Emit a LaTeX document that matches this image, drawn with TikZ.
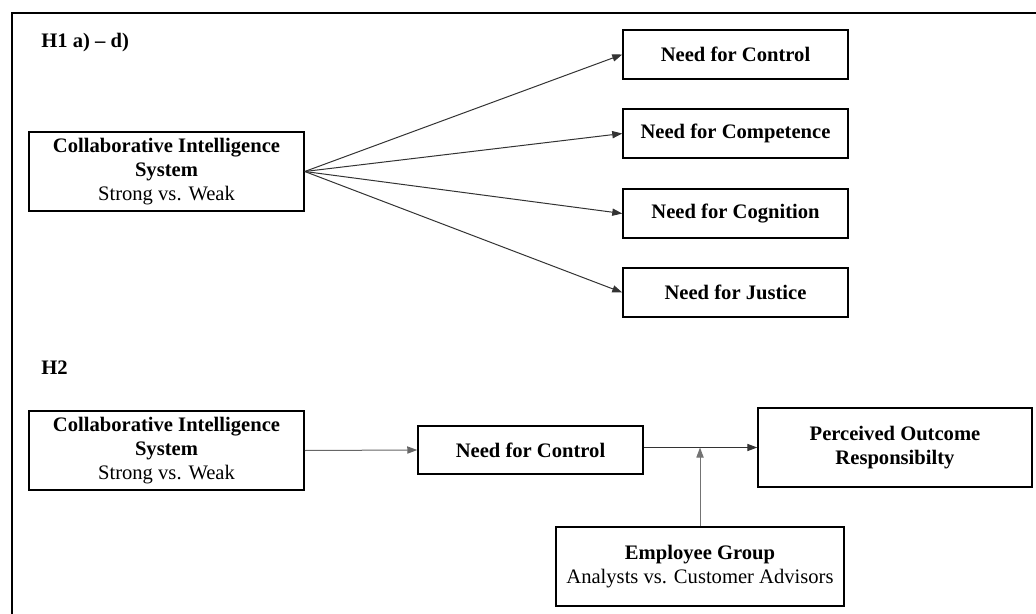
\documentclass[tikz,border=0pt]{standalone}
\usepackage{fontspec}
\setmainfont{Liberation Serif}
\usetikzlibrary{arrows.meta}
\begin{document}
\begin{tikzpicture}[x=0.5pt,y=-0.5pt,
  font=\fontsize{10.3}{12.2}\selectfont,
  box/.style={draw=black, line width=0.75pt, rectangle, align=center, inner sep=0pt},
  wide/.style={box, minimum width=137.5pt, minimum height=39.5pt},
  need/.style={box, minimum width=112.5pt, minimum height=24.5pt},
  conn/.style={line width=0.5pt, draw=black!80, -{Triangle[length=5pt,width=3.6pt]}},
  lbl/.style={anchor=west, inner sep=0pt, font=\fontsize{10.3}{12.2}\selectfont\bfseries}]
\useasboundingbox (0,0) rectangle (1036,614);
% frame (cut at right and bottom)
\draw[line width=1pt] (12,614) -- (12,13) -- (1036,13);
% H1
\node[lbl] (h1) at (41,43) {H1 a) -- d)};
\node[wide] (cis1) at (166.5,171.5) {\textbf{Collaborative Intelligence}\\\textbf{System}\\Strong vs. Weak};
\node[need] (n1) at (735.5,54.5) {\textbf{Need for Control}};
\node[need] (n2) at (735.5,133.5) {\textbf{Need for Competence}};
\node[need] (n3) at (735.5,213.5) {\textbf{Need for Cognition}};
\node[need] (n4) at (735.5,292.5) {\textbf{Need for Justice}};
\foreach \n in {n1,n2,n3,n4} \draw[conn] (cis1.east) -- (\n.west);
% H2
\node[lbl] (h2) at (41,368) {H2};
\node[wide] (cis2) at (166.5,450.5) {\textbf{Collaborative Intelligence}\\\textbf{System}\\Strong vs. Weak};
\node[box, minimum width=112.5pt, minimum height=24pt] (nc) at (530.5,450) {\textbf{Need for Control}};
\node[box, minimum width=137pt, minimum height=39.5pt] (por) at (895,447.5) {\textbf{Perceived Outcome}\\\textbf{Responsibilty}};
\node[box, minimum width=144pt, minimum height=39.5pt] (eg) at (700,566.5) {\textbf{Employee Group}\\Analysts vs. Customer Advisors};
\draw[conn, draw=black!60] (cis2.east) -- (nc.west);
\draw[conn] (nc.east |- por.west) -- (por.west);
\draw[conn, draw=black!55] (eg.north) -- (eg.north |- por.west);
\end{tikzpicture}
\end{document}
